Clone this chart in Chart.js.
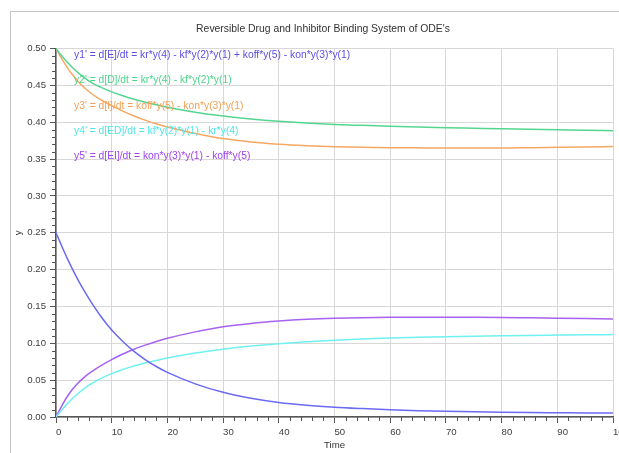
<!DOCTYPE html>
<html><head><meta charset="utf-8">
<script src="https://cdn.jsdelivr.net/npm/chart.js@4/dist/chart.umd.min.js"></script>
<style>html,body{margin:0;padding:0;background:#fff;overflow:hidden}</style>
</head><body>
<canvas id="c" width="619" height="453"></canvas>
<script>
const chartTitle = "Reversible Drug and Inhibitor Binding System of ODE's";
const xAxisTitle = "Time";
const yAxisTitle = "y";
const equationLabels = [
  "y1' = d[E]/dt = kr*y(4) - kf*y(2)*y(1) + koff*y(5) - kon*y(3)*y(1)",
  "y2' = d[D]/dt = kr*y(4) - kf*y(2)*y(1)",
  "y3' = d[I]/dt = koff*y(5) - kon*y(3)*y(1)",
  "y4' = d[ED]/dt = kf*y(2)*y(1) - kr*y(4)",
  "y5' = d[EI]/dt = kon*y(3)*y(1) - koff*y(5)"
];
const time = [0,1,2,3,4,5,6,8,10,12,14,16,18,20,25,30,35,40,45,50,55,60,65,70,75,80,85,90,95,100];
const y1E  = [0.25,0.2325,0.2155,0.2,0.1855,0.172,0.1595,0.137,0.118,0.1025,0.089,0.078,0.0685,0.0605,0.045,0.0335,0.0255,0.0198,0.016,0.0133,0.0114,0.0098,0.0086,0.0077,0.007,0.0065,0.0061,0.0058,0.0055,0.0053];
const y2D  = [0.5,0.4905,0.4818,0.474,0.467,0.4608,0.4553,0.4475,0.4412,0.4358,0.4312,0.4272,0.4236,0.4203,0.4135,0.4083,0.4043,0.4012,0.3988,0.397,0.3957,0.3945,0.3935,0.3926,0.3918,0.391,0.3903,0.3897,0.389,0.3885];
const y3I  = [0.5,0.4865,0.4745,0.464,0.455,0.4475,0.441,0.4305,0.4225,0.415,0.4085,0.4028,0.3978,0.3935,0.3848,0.3778,0.3732,0.3702,0.3682,0.3668,0.366,0.3655,0.3652,0.365,0.365,0.365,0.3654,0.3659,0.3664,0.367];
const y4ED = [0,0.0092,0.0178,0.0255,0.0322,0.0382,0.0435,0.052,0.0588,0.0645,0.0692,0.0733,0.0768,0.080,0.0868,0.092,0.0962,0.0995,0.1021,0.1042,0.1058,0.1071,0.1081,0.1089,0.1096,0.1102,0.1107,0.1111,0.1115,0.1118];
const y5EI = [0,0.0145,0.0275,0.038,0.0465,0.0535,0.0595,0.0695,0.0778,0.0855,0.092,0.0975,0.1025,0.1068,0.1155,0.1225,0.127,0.1302,0.1325,0.134,0.1348,0.1352,0.1353,0.1353,0.1352,0.135,0.1345,0.134,0.1335,0.133];

const lineColors = ['#6a6af2','#55d690','#f5a862','#70f0f0','#a862f2'];
const textColors = ['#5a4ee6','#4cd48a','#f2a055','#4fe6e6','#a044ec'];
const seriesNames = ["y1","y2","y3","y4","y5"];
const seriesData = [y1E,y2D,y3I,y4ED,y5EI];

const FONT = "'Liberation Sans', Arial, sans-serif";
const AXIS_COLOR = '#555555';
const GRID_COLOR = '#d8d8d8';

const overlay = {
  id: 'overlay',
  beforeDraw(chart) {
    const c = chart.ctx;
    c.save();
    c.fillStyle = '#ffffff';
    c.fillRect(0, 0, chart.width, chart.height);
    c.strokeStyle = '#c4c4c4';
    c.lineWidth = 1;
    c.beginPath();
    c.moveTo(10.5, chart.height);
    c.lineTo(10.5, 11.5);
    c.lineTo(chart.width, 11.5);
    c.stroke();
    c.fillStyle = '#333333';
    c.font = '10.4px ' + FONT;
    c.textAlign = 'center';
    c.textBaseline = 'middle';
    c.fillText(chartTitle, 323, 29);
    c.restore();
  },
  afterDraw(chart) {
    const c = chart.ctx;
    const xs = chart.scales.x, ys = chart.scales.y;
    c.save();
    c.strokeStyle = AXIS_COLOR;
    c.lineWidth = 1;
    c.beginPath();
    for (let v = 0; v <= 100; v += 2) {
      if (v % 10 === 0) continue;
      const px = Math.round(xs.getPixelForValue(v)) + 0.5;
      c.moveTo(px, ys.bottom); c.lineTo(px, ys.bottom + 4);
    }
    for (let i = 0; i <= 50; i++) {
      if (i % 5 === 0) continue;
      const py = Math.round(ys.getPixelForValue(i / 100)) + 0.5;
      c.moveTo(xs.left, py); c.lineTo(xs.left - 4, py);
    }
    c.stroke();
    c.font = '10.3px ' + FONT;
    c.textAlign = 'left';
    c.textBaseline = 'middle';
    const ypos = [55, 80.5, 106, 131, 156.5];
    equationLabels.forEach((t, i) => {
      c.fillStyle = textColors[i];
      c.fillText(t, 74, ypos[i]);
    });
    c.restore();
  }
};

new Chart(document.getElementById('c'), {
  type: 'line',
  data: {
    datasets: seriesData.map((d, i) => ({
      label: seriesNames[i],
      data: time.map((t, k) => ({x: t, y: d[k]})),
      borderColor: lineColors[i],
      backgroundColor: lineColors[i],
      borderWidth: 1.5,
      pointRadius: 0,
      fill: false,
      cubicInterpolationMode: 'monotone'
    }))
  },
  options: {
    responsive: false,
    animation: false,
    devicePixelRatio: 1,
    layout: { padding: { left: 13, right: 6, top: 48.5, bottom: 2 } },
    plugins: { legend: { display: false }, title: { display: false }, tooltip: { enabled: false } },
    scales: {
      x: {
        type: 'linear', min: 0, max: 100,
        afterFit(s) { s.height = 453 - 417 - 2; s.paddingLeft = 0; s.paddingRight = 0; },
        ticks: { stepSize: 10, align: 'start', maxRotation: 0, autoSkip: false, padding: 4,
                 color: '#404040', font: { family: FONT, size: 9.6 } },
        grid: { color: GRID_COLOR, lineWidth: 1, tickColor: AXIS_COLOR, tickLength: 6 },
        border: { color: AXIS_COLOR, width: 1.5 },
        title: { display: true, text: xAxisTitle, color: '#333333', font: { family: FONT, size: 9.6 }, padding: { top: 0, bottom: 0 } }
      },
      y: {
        type: 'linear', min: 0, max: 0.5,
        afterFit(s) { s.width = 56 - 13; s.paddingTop = 0; s.paddingBottom = 0; },
        ticks: { stepSize: 0.05, autoSkip: false, padding: 4, color: '#404040',
                 font: { family: FONT, size: 9.6 }, callback: v => Number(v).toFixed(2) },
        grid: { color: GRID_COLOR, lineWidth: 1, tickColor: AXIS_COLOR, tickLength: 6 },
        border: { color: AXIS_COLOR, width: 1.5 },
        title: { display: true, text: yAxisTitle, color: '#333333', font: { family: FONT, size: 9.6 }, padding: { top: 0, bottom: 0 } }
      }
    }
  },
  plugins: [overlay]
});
</script>
</body></html>
